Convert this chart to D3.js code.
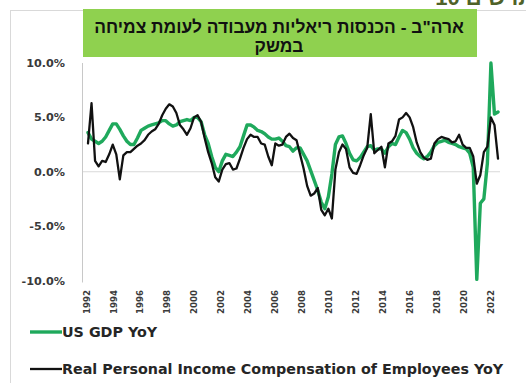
<!DOCTYPE html>
<html>
<head>
<meta charset="utf-8">
<script src="https://cdn.jsdelivr.net/npm/d3@7"></script>
<style>
  html, body { margin: 0; padding: 0; background: #fff; }
  svg { display: block; }
</style>
</head>
<body>
<svg id="chart" width="526" height="383"></svg>
<script>
// ---- data -------------------------------------------------------------
const titleLines = ['ארה"ב - הכנסות ריאליות מעבודה לעומת צמיחה', 'במשק'];
const headerText = 'תרשים 10';
const seriesNames = ['US GDP YoY', 'Real Personal Income Compensation of Employees YoY'];

// quarterly observations, first one is 1992 Q4
const firstQuarter = 1992.75;

// US real GDP, % change year over year
const gdpYoY = [
  3.6, 3.0, 2.8, 2.6, 2.8, 3.2, 3.8, 4.4, 4.4, 3.9,
  3.3, 2.8, 2.5, 2.5, 3.1, 3.8, 4.0, 4.2, 4.3, 4.4,
  4.5, 4.7, 4.7, 4.4, 4.2, 4.3, 4.6, 4.7, 4.8, 4.7,
  5.0, 5.0, 4.6, 3.4, 2.6, 1.4, 0.4, 0.0, 1.0, 1.6,
  1.5, 1.4, 1.8, 2.3, 3.3, 4.3, 4.3, 4.1, 3.8, 3.7,
  3.5, 3.2, 3.0, 3.0, 3.1, 2.8, 2.4, 2.3, 1.9, 2.2,
  2.2, 1.6, 1.0, 0.1, -0.8, -1.7, -2.8, -3.4, -2.3, -0.2,
  2.5, 3.2, 3.3, 2.6, 1.7, 1.1, 1.0, 1.3, 1.8, 2.3,
  2.4, 2.0, 2.1, 2.1, 1.7, 2.3, 2.6, 2.5, 3.2, 3.8,
  3.6, 3.0, 2.2, 1.7, 1.4, 1.2, 1.4, 1.8, 2.4, 2.7,
  2.8, 2.9, 2.7, 2.6, 2.5, 2.3, 2.2, 2.1, 1.7, 0.4,
  -9.9, -2.9, -2.5, 0.8, 10.0, 5.3, 5.5
];

// real personal income: compensation of employees, % change year over year
const compYoY = [
  2.6, 6.3, 1.0, 0.5, 1.0, 0.9, 1.6, 2.5, 1.6, -0.7,
  1.5, 1.8, 1.8, 2.1, 2.4, 2.6, 2.9, 3.4, 3.7, 3.9,
  4.4, 5.2, 5.8, 6.2, 6.0, 5.4, 4.3, 3.9, 3.4, 4.0,
  5.0, 5.2, 4.6, 3.1, 1.8, 0.8, -0.5, -0.9, 0.2, 0.7,
  0.8, 0.2, 0.3, 1.2, 2.2, 3.0, 3.4, 3.2, 3.2, 2.6,
  2.5, 1.4, 0.6, 2.6, 2.4, 2.5, 3.2, 3.5, 3.1, 2.9,
  1.6, 0.3, -1.3, -2.2, -2.0, -1.5, -3.5, -4.0, -3.4, -4.3,
  0.2, 1.8, 2.5, 2.1, 0.4, -0.1, -0.2, 0.6, 1.5, 2.2,
  5.3, 1.7, 2.0, 2.3, 0.4, 2.6, 2.8, 3.3, 4.8, 5.0,
  5.4, 5.0, 4.1, 2.7, 1.8, 1.3, 1.1, 1.2, 2.6, 3.0,
  3.2, 3.1, 3.0, 2.7, 2.8, 3.4, 2.5, 2.2, 2.2, 1.4,
  -1.1, -0.3, 1.8, 2.3, 5.0, 4.3, 1.2
];

const yTicks = [-10, -5, 0, 5, 10];
const yearLabels = ['1992', '1994', '1996', '1998', '2000', '2002', '2004', '2006',
                    '2008', '2010', '2012', '2014', '2016', '2018', '2020', '2022'];

// ---- drawing ----------------------------------------------------------
const svg = d3.select('#chart');
const LATIN = '"DejaVu Sans", Verdana, sans-serif';
const HEB = '"Liberation Sans", Arial, "DejaVu Sans", sans-serif';

const plot = { left: 82, right: 498, top: 63, bottom: 280.5 };

// outer frame of the chart object
svg.append('rect')
  .attr('x', 10.5).attr('y', 10.5)
  .attr('width', 540).attr('height', 400)
  .attr('fill', '#fff').attr('stroke', '#d9d9d9').attr('stroke-width', 1);

// running header above the frame (its upper part runs off the page)
svg.append('text')
  .attr('x', 534).attr('y', 5)
  .attr('direction', 'rtl')
  .attr('text-anchor', 'start')
  .attr('font-family', HEB).attr('font-weight', 'bold')
  .attr('font-size', 22)
  .attr('fill', '#4f6228')
  .text(headerText);

// scales
const x = d3.scaleLinear()
  .domain([firstQuarter, firstQuarter + (gdpYoY.length - 1) / 4])
  .range([88, plot.right]);
const y = d3.scaleLinear().domain([-10, 10]).range([plot.bottom, plot.top]);
const xLab = d3.scalePoint().domain(yearLabels).range([86, 490]);

// zero line
svg.append('line')
  .attr('x1', plot.left).attr('x2', 500)
  .attr('y1', y(0)).attr('y2', y(0))
  .attr('stroke', '#d9d9d9').attr('stroke-width', 1);

// y axis
const yAxis = svg.append('g')
  .attr('transform', `translate(${plot.left},0)`)
  .call(d3.axisLeft(y).tickValues(yTicks).tickSize(0).tickPadding(17)
    .tickFormat(d => d.toFixed(1) + '%'));
yAxis.select('.domain').attr('stroke', '#c8c8c8').attr('d', `M0.5,${plot.top}V${plot.bottom + 2}`);
yAxis.selectAll('text')
  .attr('font-family', LATIN).attr('font-weight', 'bold')
  .attr('font-size', 11.2).attr('fill', '#3a3a3a');

// x axis labels (rotated)
const xAxis = svg.append('g')
  .attr('transform', 'translate(0,290)')
  .call(d3.axisBottom(xLab).tickSize(0).tickPadding(0));
xAxis.select('.domain').remove();
xAxis.selectAll('text')
  .attr('y', 0).attr('x', 0).attr('dy', '0.36em')
  .attr('transform', 'rotate(-90)')
  .attr('text-anchor', 'end')
  .attr('font-family', LATIN).attr('font-weight', 'bold')
  .attr('font-size', 8.6).attr('fill', '#3a3a3a');

// series lines
const line = d3.line()
  .x((d, i) => x(firstQuarter + i / 4))
  .y(d => y(d));

svg.append('path')
  .datum(gdpYoY)
  .attr('d', line)
  .attr('fill', 'none')
  .attr('stroke', '#1fa95c')
  .attr('stroke-width', 3.4)
  .attr('stroke-linejoin', 'round').attr('stroke-linecap', 'round');

svg.append('path')
  .datum(compYoY)
  .attr('d', line)
  .attr('fill', 'none')
  .attr('stroke', '#111')
  .attr('stroke-width', 2.3)
  .attr('stroke-linejoin', 'round').attr('stroke-linecap', 'round');

// title box
svg.append('rect')
  .attr('x', 83).attr('y', 9)
  .attr('width', 394).attr('height', 48)
  .attr('fill', '#8fd14f');

svg.selectAll('text.title')
  .data(titleLines)
  .join('text')
  .attr('class', 'title')
  .attr('x', 279)
  .attr('y', (d, i) => 33 + i * 19)
  .attr('direction', 'rtl')
  .attr('text-anchor', 'middle')
  .attr('font-family', HEB).attr('font-weight', 'bold')
  .attr('font-size', 17.4)
  .attr('fill', '#111')
  .text(d => d);

// legend
const legend = svg.append('g');
const legendRows = [
  { name: seriesNames[0], color: '#1fa95c', width: 3.4, y: 332 },
  { name: seriesNames[1], color: '#111', width: 2.3, y: 369 }
];
legendRows.forEach(r => {
  legend.append('line')
    .attr('x1', 30).attr('x2', 62)
    .attr('y1', r.y).attr('y2', r.y)
    .attr('stroke', r.color).attr('stroke-width', r.width);
  legend.append('text')
    .attr('x', 62).attr('y', r.y + 5)
    .attr('font-family', LATIN).attr('font-weight', 'bold')
    .attr('font-size', 14.3).attr('fill', '#262626')
    .text(r.name);
});
</script>
</body>
</html>
